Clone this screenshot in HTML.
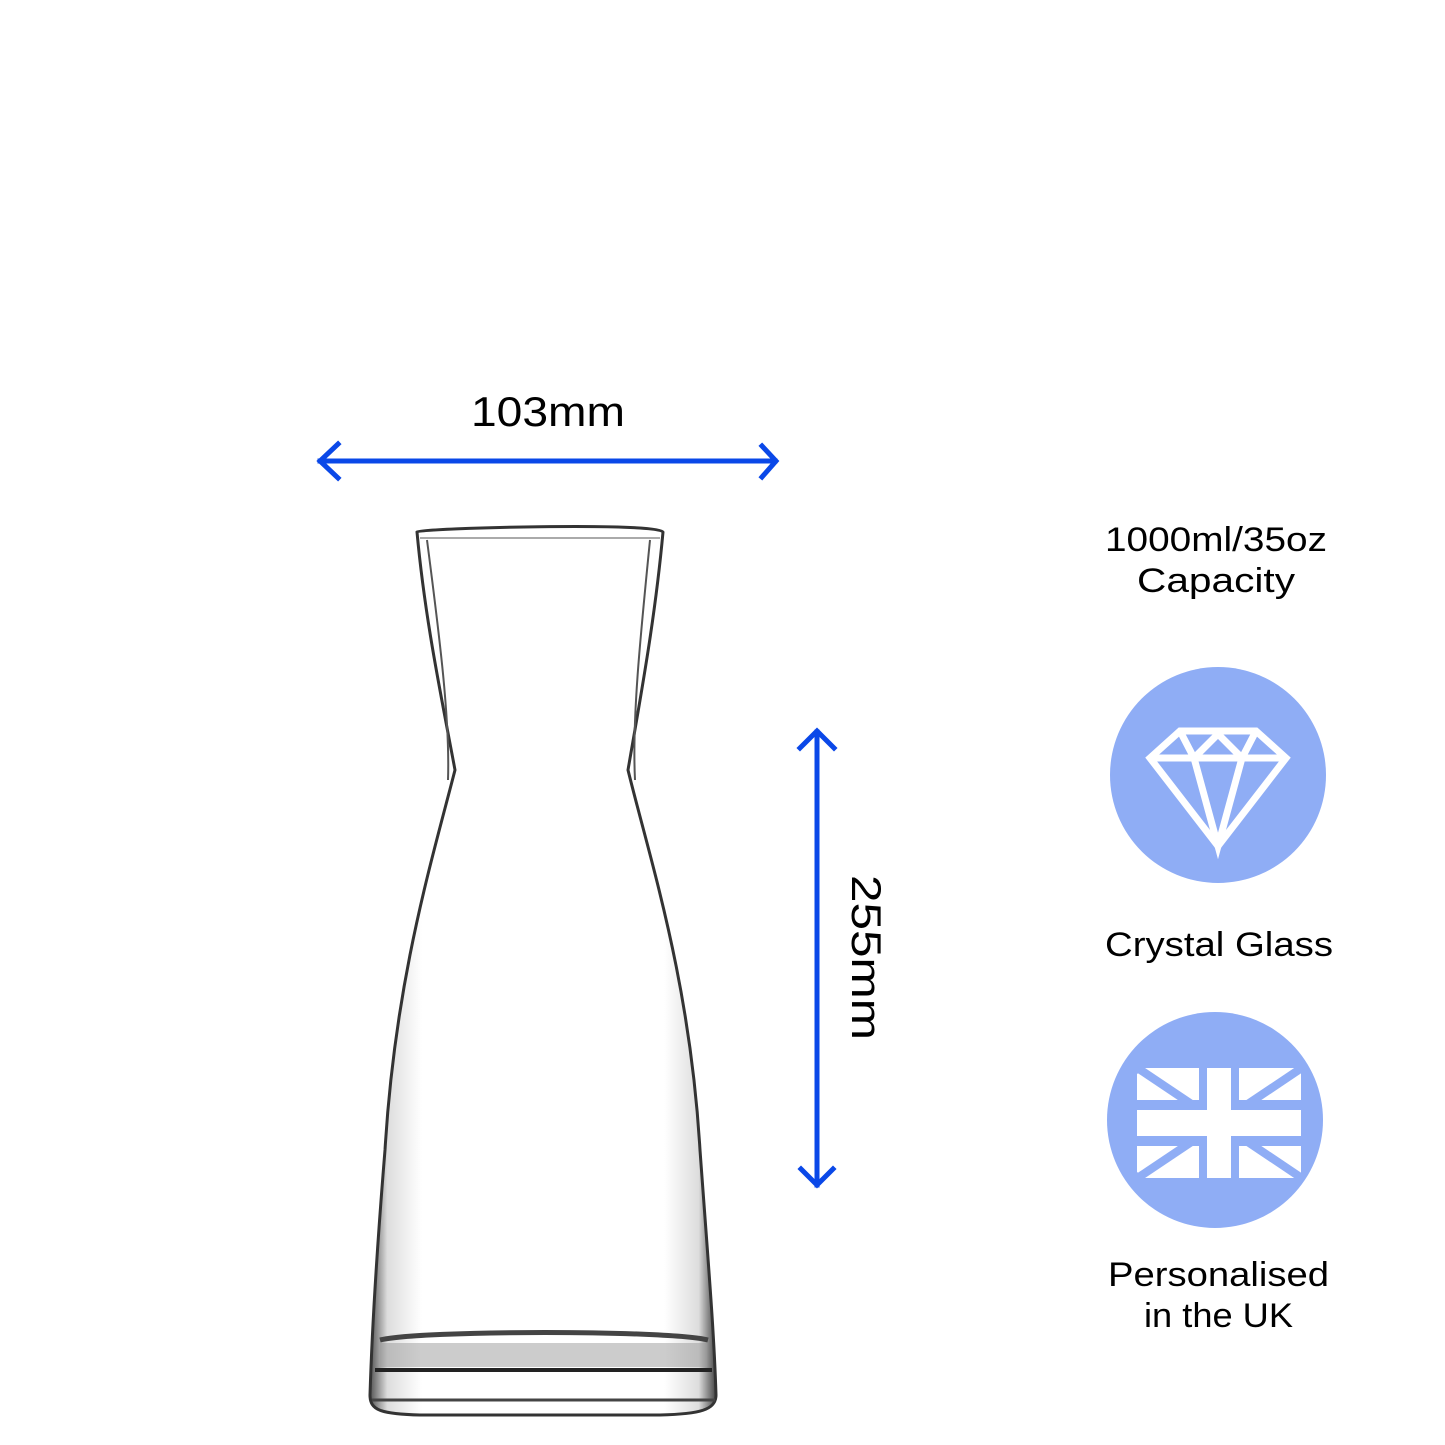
<!DOCTYPE html>
<html><head><meta charset="utf-8"><style>
html,body{margin:0;padding:0;background:#fff}
svg{display:block}
text{font-family:"Liberation Sans",sans-serif;fill:#000}
</style></head><body>
<svg width="1445" height="1445" viewBox="0 0 1445 1445" xmlns="http://www.w3.org/2000/svg">
<defs>
<linearGradient id="g" x1="0" x2="1" y1="0" y2="0">
<stop offset="0" stop-color="#555"/><stop offset="0.05" stop-color="#ddd"/><stop offset="0.15" stop-color="#fff"/><stop offset="0.85" stop-color="#fff"/><stop offset="0.95" stop-color="#ddd"/><stop offset="1" stop-color="#444"/>
</linearGradient>
<clipPath id="fc"><rect x="1137" y="1068" width="164" height="110"/></clipPath>
</defs>
<g stroke="#0a48e8" stroke-width="5" fill="none" stroke-linecap="square">
<line x1="320" y1="461" x2="775" y2="461"/>
<polyline points="338,444 320,461 338,478"/>
<polyline points="762,446 776,461 762,477"/>
<line x1="817" y1="732" x2="817" y2="1185"/>
<polyline points="800,748 817,731 834,748"/>
<polyline points="801,1169 817,1185 833,1169"/>
</g>
<text x="471" y="426" font-size="42" textLength="154" lengthAdjust="spacingAndGlyphs">103mm</text>
<text transform="translate(852,875) rotate(90)" font-size="42" textLength="165" lengthAdjust="spacingAndGlyphs">255mm</text>
<path d="M417,532 C420,528 660,522 663,532 C655,620 640,700 628,770 C650,860 690,980 700,1150 C708,1260 714,1330 716,1395 C716,1410 700,1414 660,1415 L420,1415 C380,1414 370,1410 370,1395 C372,1330 376,1260 385,1150 C395,980 432,860 455,770 C442,700 425,620 417,532 Z" fill="url(#g)" stroke="#333" stroke-width="3"/>
<path d="M427,540 C440,640 450,720 448,780" stroke="#555" stroke-width="2" fill="none"/>
<path d="M650,540 C640,640 632,720 635,780" stroke="#555" stroke-width="2" fill="none"/>
<path d="M380,1340 C420,1330 670,1330 708,1340" stroke="#444" stroke-width="5" fill="none"/>
<rect x="380" y="1343" width="326" height="24" fill="#999" opacity="0.5"/>
<path d="M375,1370 L712,1370" stroke="#222" stroke-width="4"/>
<path d="M372,1400 L715,1400" stroke="#444" stroke-width="3"/>
<path d="M420,538 L660,538" stroke="#aaa" stroke-width="2"/>
<text x="1105" y="551" font-size="34" textLength="222" lengthAdjust="spacingAndGlyphs">1000ml/35oz</text>
<text x="1137" y="592" font-size="34" textLength="158" lengthAdjust="spacingAndGlyphs">Capacity</text>
<circle cx="1218" cy="775" r="108" fill="#8fadf5"/>
<g stroke="#fff" stroke-width="7" fill="none" stroke-linejoin="miter">
<polygon points="1180,731 1256,731 1286,758 1218,846 1150,758"/>
<line x1="1150" y1="758" x2="1286" y2="758"/>
<polyline points="1180,731 1194,758 1218,846 1242,758 1256,731"/>
<polyline points="1194,758 1218,734 1242,758"/>
</g>
<text x="1105" y="956" font-size="34" textLength="228" lengthAdjust="spacingAndGlyphs">Crystal Glass</text>
<circle cx="1215" cy="1120" r="108" fill="#8fadf5"/>
<g clip-path="url(#fc)">
<rect x="1137" y="1068" width="164" height="110" fill="#fff"/>
<g stroke="#8fadf5" stroke-width="9">
<line x1="1137" y1="1068" x2="1301" y2="1178"/>
<line x1="1301" y1="1068" x2="1137" y2="1178"/>
</g>
<g stroke="#fff" stroke-width="4">
<line x1="1137" y1="1075" x2="1301" y2="1185"/>
<line x1="1301" y1="1061" x2="1137" y2="1171"/>
</g>
<rect x="1199" y="1068" width="40" height="110" fill="#8fadf5"/>
<rect x="1137" y="1100" width="164" height="46" fill="#8fadf5"/>
<rect x="1207" y="1068" width="24" height="110" fill="#fff"/>
<rect x="1137" y="1110" width="164" height="26" fill="#fff"/>
</g>
<text x="1108" y="1286" font-size="34" textLength="221" lengthAdjust="spacingAndGlyphs">Personalised</text>
<text x="1144" y="1327" font-size="34" textLength="149" lengthAdjust="spacingAndGlyphs">in the UK</text>
</svg>
</body></html>
